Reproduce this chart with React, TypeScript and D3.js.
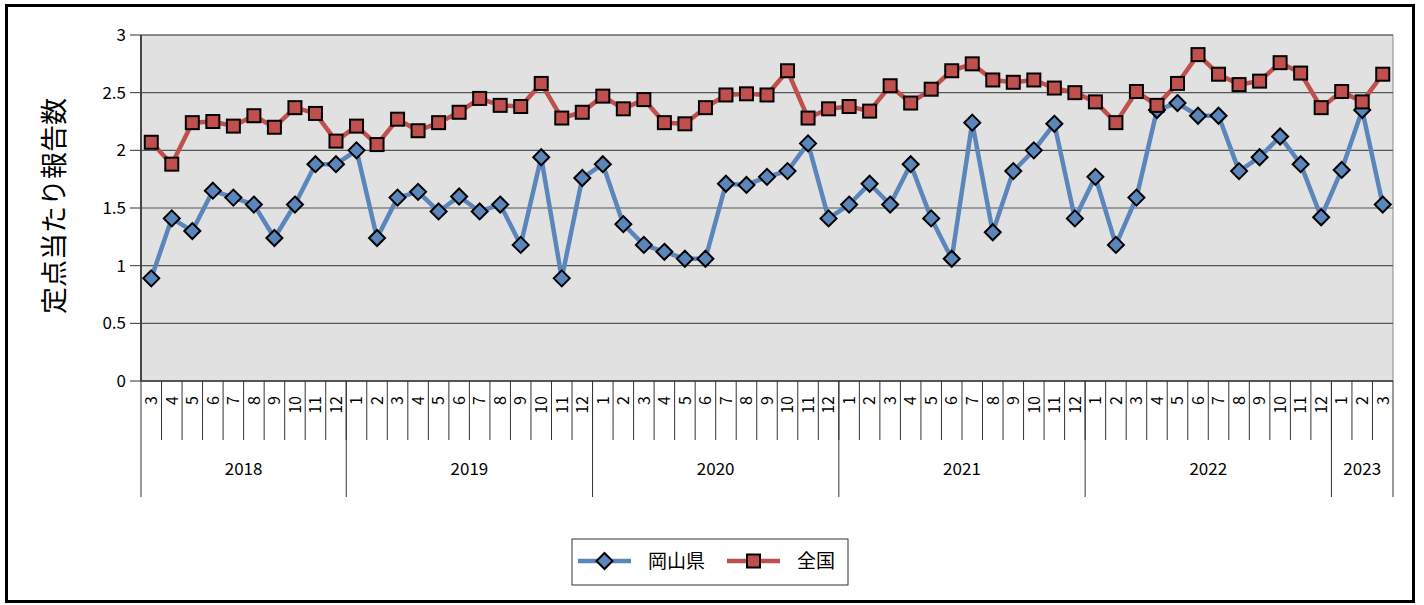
import * as d3 from 'd3'

const years = ['2018', '2019', '2020', '2021', '2022', '2023']
const yearMonths = [
  [3, 4, 5, 6, 7, 8, 9, 10, 11, 12],
  [1, 2, 3, 4, 5, 6, 7, 8, 9, 10, 11, 12],
  [1, 2, 3, 4, 5, 6, 7, 8, 9, 10, 11, 12],
  [1, 2, 3, 4, 5, 6, 7, 8, 9, 10, 11, 12],
  [1, 2, 3, 4, 5, 6, 7, 8, 9, 10, 11, 12],
  [1, 2, 3],
]

const okayama = [
  0.89, 1.41, 1.3, 1.65, 1.59, 1.53, 1.24, 1.53, 1.88, 1.88,
  2.0, 1.24, 1.59, 1.64, 1.47, 1.6, 1.47, 1.53, 1.18, 1.94, 0.89, 1.76,
  1.88, 1.36, 1.18, 1.12, 1.06, 1.06, 1.71, 1.7, 1.77, 1.82, 2.06, 1.41,
  1.53, 1.71, 1.53, 1.88, 1.41, 1.06, 2.24, 1.29, 1.82, 2.0, 2.23, 1.41,
  1.77, 1.18, 1.59, 2.35, 2.41, 2.3, 2.3, 1.82, 1.94, 2.12, 1.88, 1.42,
  1.83, 2.35, 1.53,
]

const national = [
  2.07, 1.88, 2.24, 2.25, 2.21, 2.3, 2.2, 2.37, 2.32, 2.08,
  2.21, 2.05, 2.27, 2.17, 2.24, 2.33, 2.45, 2.39, 2.38, 2.58, 2.28, 2.33,
  2.47, 2.36, 2.44, 2.24, 2.23, 2.37, 2.48, 2.49, 2.48, 2.69, 2.28, 2.36,
  2.38, 2.34, 2.56, 2.41, 2.53, 2.69, 2.75, 2.61, 2.59, 2.61, 2.54, 2.5,
  2.42, 2.24, 2.51, 2.39, 2.58, 2.83, 2.66, 2.57, 2.6, 2.76, 2.67, 2.37,
  2.51, 2.42, 2.66,
]

const yTicks = [0, 0.5, 1, 1.5, 2, 2.5, 3]
const seriesNames = ['岡山県', '全国']

const BLUE = '#5b86bb'
const RED = '#c0504d'
const FONT = '"Noto Sans CJK JP", "Noto Sans", sans-serif'

const months = yearMonths.flatMap((ms, yi) => ms.map(m => ({ key: `${years[yi]}-${m}`, m })))

function Diamond({ x, y, r = 8 }: { x: number; y: number; r?: number }) {
  return (
    <path
      d={`M${x},${y - r}L${x + r},${y}L${x},${y + r}L${x - r},${y}Z`}
      fill={BLUE}
      stroke="#000"
      strokeWidth={2}
    />
  )
}

function Square({ x, y, s = 13 }: { x: number; y: number; s?: number }) {
  return <rect x={x - s / 2} y={y - s / 2} width={s} height={s} fill={RED} stroke="#000" strokeWidth={2} />
}

export default function App() {
  const W = 1424
  const H = 605
  const left = 141
  const right = 1393
  const top = 35
  const bottom = 381

  const x = d3
    .scaleBand<string>()
    .domain(months.map(d => d.key))
    .range([left, right])
  const y = d3.scaleLinear().domain([0, 3]).range([bottom, top])
  const cx = (i: number) => (x(months[i].key) ?? 0) + x.bandwidth() / 2

  const line = d3
    .line<number>()
    .x((_, i) => cx(i))
    .y(d => y(d))

  // year boundaries
  let acc = 0
  const yearSpans = yearMonths.map((ms, i) => {
    const start = acc
    acc += ms.length
    return { year: years[i], start, end: acc }
  })
  const edge = (i: number) => (i < months.length ? x(months[i].key) ?? 0 : right)

  return (
    <svg width={W} height={H} style={{ position: 'absolute', left: 0, top: 0 }} fontFamily={FONT}>
      <rect x={0} y={0} width={W} height={H} fill="#fff" />
      <rect x={6.5} y={5.5} width={1407} height={596} fill="#fff" stroke="#000" strokeWidth={3} />

      <rect x={left} y={top} width={right - left} height={bottom - top} fill="#e1e1e1" stroke="#888" strokeWidth={1} />

      {yTicks.map(t => (
        <g key={t}>
          {t > 0 && <line x1={left} x2={right} y1={y(t)} y2={y(t)} stroke="#555" strokeWidth={1.2} />}
          <line x1={130} x2={left} y1={y(t)} y2={y(t)} stroke="#333" strokeWidth={1} />
          <text x={126} y={y(t)} dy="0.35em" textAnchor="end" fontSize={17} fill="#000">
            {t}
          </text>
        </g>
      ))}
      <line x1={left} x2={left} y1={top} y2={bottom} stroke="#444" strokeWidth={2} />
      <line x1={left} x2={right} y1={bottom} y2={bottom} stroke="#333" strokeWidth={1.5} />

      <text
        transform={`translate(64,${(top + bottom) / 2 - 2}) rotate(-90)`}
        textAnchor="middle"
        fontSize={27}
        fill="#000"
      >
        定点当たり報告数
      </text>

      {months.map((d, i) => (
        <g key={d.key}>
          {i > 0 && (
            <line x1={edge(i)} x2={edge(i)} y1={bottom} y2={440} stroke="#333" strokeWidth={1} />
          )}
          <text
            transform={`translate(${cx(i)},396) rotate(-90)`}
            textAnchor="end"
            dy="0.36em"
            fontSize={16}
            fill="#000"
          >
            {d.m}
          </text>
        </g>
      ))}
      {yearSpans.map(s => (
        <g key={s.year}>
          <line x1={edge(s.start)} x2={edge(s.start)} y1={bottom} y2={497} stroke="#333" strokeWidth={1} />
          <text x={(edge(s.start) + edge(s.end)) / 2} y={469} dy="0.35em" textAnchor="middle" fontSize={17} fill="#000">
            {s.year}
          </text>
        </g>
      ))}
      <line x1={right} x2={right} y1={bottom} y2={497} stroke="#333" strokeWidth={1} />

      <path d={line(okayama) ?? ''} fill="none" stroke={BLUE} strokeWidth={4.5} strokeLinejoin="round" />
      {okayama.map((v, i) => (
        <Diamond key={i} x={cx(i)} y={y(v)} />
      ))}
      <path d={line(national) ?? ''} fill="none" stroke={RED} strokeWidth={4.5} strokeLinejoin="round" />
      {national.map((v, i) => (
        <Square key={i} x={cx(i)} y={y(v)} />
      ))}

      <rect x={572} y={539} width={276} height={46} fill="#fff" stroke="#333" strokeWidth={1} />
      <line x1={578} x2={631} y1={561} y2={561} stroke={BLUE} strokeWidth={4.5} />
      <Diamond x={604.5} y={561} />
      <text x={648} y={561} dy="0.36em" fontSize={19} fill="#000">
        {seriesNames[0]}
      </text>
      <line x1={727} x2={780} y1={561} y2={561} stroke={RED} strokeWidth={4.5} />
      <Square x={753.5} y={561} />
      <text x={797} y={561} dy="0.36em" fontSize={19} fill="#000">
        {seriesNames[1]}
      </text>
    </svg>
  )
}
